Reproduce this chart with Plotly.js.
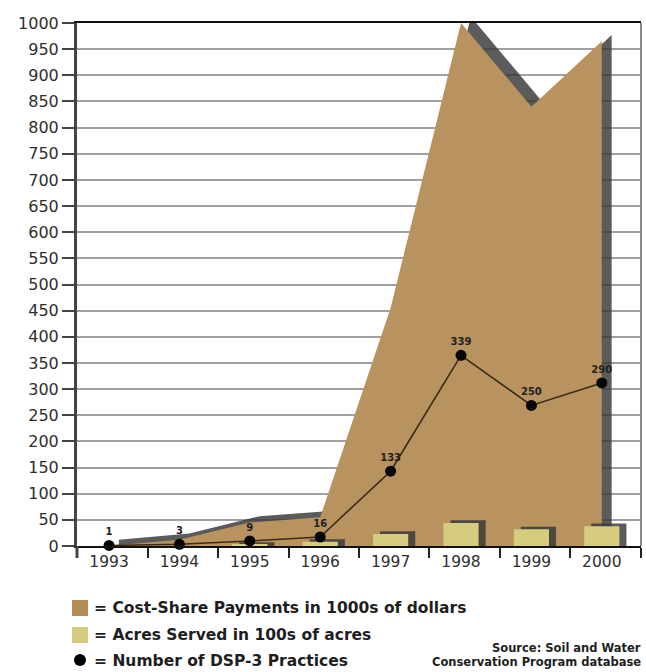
<!DOCTYPE html>
<html>
<head>
<meta charset="utf-8">
<script src="https://cdn.plot.ly/plotly-3.0.1.min.js"></script>
<style>html,body{margin:0;padding:0;background:#fff}#chart{width:646px;height:672px}</style>
</head>
<body>
<div id="chart"></div>
<script>
// ---- data ----
const years = ['1993','1994','1995','1996','1997','1998','1999','2000'];
const costShare = [0, 12, 45, 55, 455, 1000, 840, 965];   // 1000s of dollars
const acres = [0, 0, 2, 8, 23, 44, 32, 38];               // 100s of acres
const practices = [1, 3, 9, 16, 133, 339, 250, 290];      // number of DSP-3 practices
const yTicks = [0,50,100,150,200,250,300,350,400,450,500,550,600,650,700,750,800,850,900,950,1000];

// ---- style ----
const TAN = '#b8925f';
const YELLOW = '#d5cc7f';
const SHADOW = 'rgba(55,55,55,0.82)';
const SH_DX = 0.14, SH_DY = 12, BAR_SH_DX = 0.1, BAR_SH_DY = 5;
const FONT = 'DejaVu Sans';

const xs = years.map((_, i) => i);

const traces = [
  { // drop shadow of the cost-share area
    x: xs.map(v => v + SH_DX), y: costShare.map(v => v + SH_DY),
    type: 'scatter', mode: 'none', fill: 'tozeroy', fillcolor: SHADOW,
    hoverinfo: 'skip', showlegend: false
  },
  {
    x: xs, y: costShare, type: 'scatter', mode: 'none', fill: 'tozeroy',
    fillcolor: TAN, name: 'Cost-Share Payments', showlegend: false
  },
  { // bar shadows
    x: xs, y: acres.map(v => v > 0 ? v + BAR_SH_DY : 0), type: 'bar', yaxis: 'y2',
    width: 0.5, offset: -0.25 + BAR_SH_DX, marker: {color: SHADOW, line: {width: 0}}, hoverinfo: 'skip', showlegend: false
  },
  {
    x: xs, y: acres, type: 'bar', yaxis: 'y2', width: 0.5, offset: -0.25,
    marker: {color: YELLOW, line: {width: 0}}, name: 'Acres Served', showlegend: false
  },
  {
    x: xs, y: practices, yaxis: 'y3', type: 'scatter', mode: 'lines+markers+text',
    line: {color: '#3a2a18', width: 1.6},
    marker: {color: '#050505', size: 11},
    text: practices.map(String), textposition: 'top center',
    textfont: {family: FONT, size: 10, color: '#222', weight: 'bold'},
    cliponaxis: false, name: 'DSP-3 Practices', showlegend: false
  }
];

// pixel helpers for legend decorations (plot area: x 77..641, y 23..546)
const L = 77, R = 5, T = 23, B = 126, W = 646, H = 672;
const PW = W - L - R, PH = H - T - B;
const px = p => (p - L) / PW;
const py = p => (H - B - p) / PH;

const shapes = [
  {type: 'line', xref: 'paper', yref: 'paper', x0: 0, x1: 0, y0: 0, y1: py(558), line: {color: '#444', width: 3}},
  {type: 'line', xref: 'paper', yref: 'paper', x0: 1, x1: 1, y0: 0, y1: 1, line: {color: '#8a8a8a', width: 2}},
  {type: 'rect', xref: 'paper', yref: 'paper', x0: px(72), x1: px(88), y0: py(600), y1: py(616), fillcolor: '#b48c58', line: {width: 0}},
  {type: 'rect', xref: 'paper', yref: 'paper', x0: px(72), x1: px(88), y0: py(627), y1: py(643), fillcolor: YELLOW, line: {width: 0}},
  {type: 'circle', xref: 'paper', yref: 'paper', x0: px(74), x1: px(86), y0: py(654), y1: py(666), fillcolor: '#000', line: {width: 0}}
];

const legFont = {family: FONT, size: 15.5, color: '#1e1e1e', weight: 'bold'};
const srcFont = {family: FONT, size: 11.5, color: '#1e1e1e', weight: 'bold'};
const annotations = [
  {text: '= Cost-Share Payments in 1000s of dollars', x: px(92), y: py(608), font: legFont, xanchor: 'left'},
  {text: '= Acres Served in 100s of acres', x: px(92), y: py(635), font: legFont, xanchor: 'left'},
  {text: '= Number of DSP-3 Practices', x: px(92), y: py(661), font: legFont, xanchor: 'left'},
  {text: 'Source: Soil and Water', x: px(643), y: py(648), font: srcFont, xanchor: 'right'},
  {text: 'Conservation Program database', x: px(643), y: py(662), font: srcFont, xanchor: 'right'}
].map(a => Object.assign({xref: 'paper', yref: 'paper', showarrow: false, yanchor: 'middle'}, a));

const layout = {
  width: W, height: H,
  margin: {l: L, r: R, t: T, b: B, pad: 0},
  paper_bgcolor: '#fff', plot_bgcolor: '#fff',
  showlegend: false, barmode: 'overlay',
  font: {family: FONT, color: '#333'},
  xaxis: {
    range: [-0.455, 7.557], tickmode: 'array', tickvals: xs, ticktext: years,
    ticks: '', showgrid: false, zeroline: false,
    showline: true, linecolor: '#111', linewidth: 2, mirror: true,
    tickfont: {family: FONT, size: 15.5, color: '#2e2e2e'},
    minor: {tick0: 0.55, dtick: 1, ticks: 'outside', ticklen: 10, tickwidth: 2, tickcolor: '#222', showgrid: false}
  },
  yaxis: {
    range: [0, 1000], tickmode: 'array', tickvals: yTicks,
    ticks: 'outside', ticklen: 12, tickwidth: 2, tickcolor: '#444',
    showgrid: true, gridcolor: '#a0a0a0', gridwidth: 1.5, zeroline: false,
    showline: true, linecolor: '#444', linewidth: 3,
    tickfont: {family: FONT, size: 16, color: '#2e2e2e'}
  },
  yaxis2: {overlaying: 'y', range: [0, 1000], visible: false, showgrid: false, zeroline: false},
  yaxis3: {overlaying: 'y', range: [0, 930], visible: false, showgrid: false, zeroline: false},
  shapes: shapes,
  annotations: annotations
};

Plotly.newPlot('chart', traces, layout, {displayModeBar: false, responsive: false});
</script>
</body>
</html>
